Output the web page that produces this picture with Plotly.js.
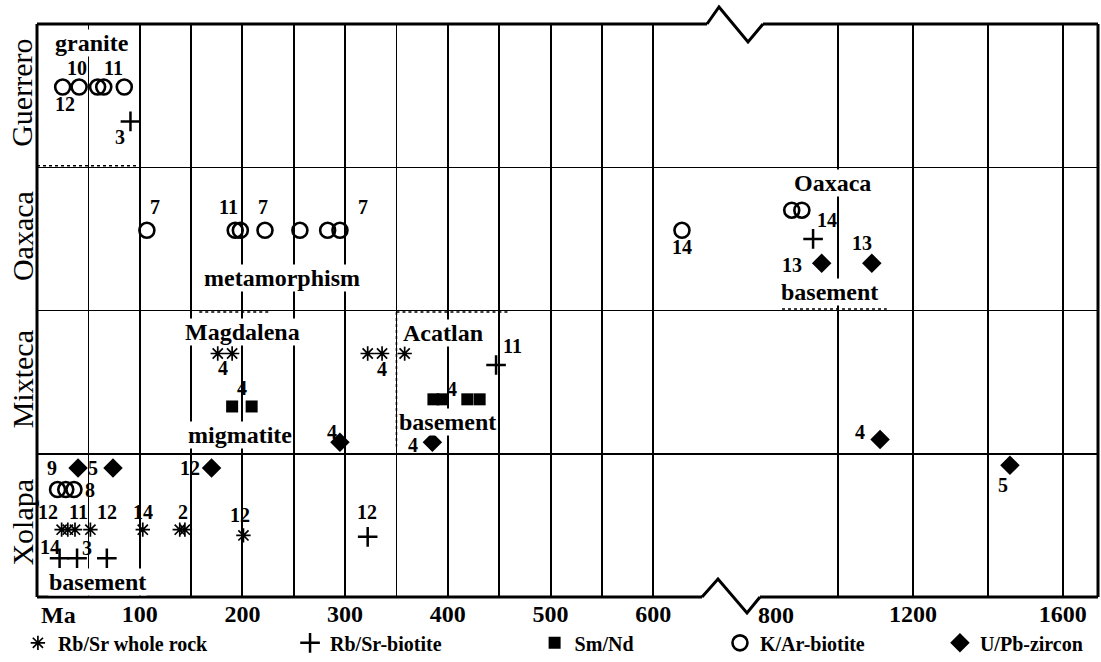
<!DOCTYPE html>
<html>
<head>
<meta charset="utf-8">
<script src="https://cdn.plot.ly/plotly-3.0.1.min.js"></script>
<style>html,body{margin:0;padding:0;background:#fff;}#chart{width:1101px;height:662px;}</style>
</head>
<body>
<div id="chart"></div>
<script>
// ---------------- DATA ----------------
// rows (terranes), bottom to top; each row occupies one unit band on the y axis
const rows = ['Xolapa', 'Mixteca', 'Oaxaca', 'Guerrero'];
const methods = ['Rb/Sr whole rock', 'Rb/Sr-biotite', 'Sm/Nd', 'K/Ar-biotite', 'U/Pb-zircon'];

// ages in Ma, lane = vertical place inside the row band (row index + fraction)
const rbsrWholeRockAge  = [176, 190, 322, 336, 358, 24, 30, 37, 52, 103, 139, 144, 201];
const rbsrWholeRockLane = [1.70, 1.70, 1.70, 1.70, 1.70, 0.47, 0.47, 0.47, 0.47, 0.47, 0.47, 0.47, 0.43];

const rbsrBiotiteAge  = [91, 933, 447, 22, 39, 68, 322];
const rbsrBiotiteLane = [3.32, 2.50, 1.62, 0.27, 0.27, 0.27, 0.42];

const smNdAge  = [190, 209, 386, 395, 419, 431];
const smNdLane = [1.33, 1.33, 1.38, 1.38, 1.38, 1.38];

const kArBiotiteAge  = [25, 41, 59, 65, 85, 107, 193, 198, 222, 256, 283, 295, 628, 876, 903, 20, 28, 36];
const kArBiotiteLane = [3.56, 3.56, 3.56, 3.56, 3.56, 2.56, 2.56, 2.56, 2.56, 2.56, 2.56, 2.56, 2.56, 2.70, 2.70, 0.75, 0.75, 0.75];

const uPbZirconAge  = [956, 1090, 295, 385, 1112, 40, 74, 170, 1459];
const uPbZirconLane = [2.33, 2.33, 1.08, 1.08, 1.10, 0.90, 0.90, 0.90, 0.92];

// reference numbers written beside the dates
const refText = ['10', '11', '12', '3', '7', '11', '7', '7', '14', '14', '13', '13',
                 '4', '4', '4', '4', '11', '4', '4', '4',
                 '9', '5', '12', '8', '12', '11', '12', '14', '2', '12', '12', '14', '3', '5'];
const refAge  = [39, 74, 27, 81, 115, 186, 220, 317, 628, 970, 876, 1064,
                 181, 200, 287, 336, 463, 404, 366, 1058,
                 15, 55, 149, 52, 11, 40, 68, 103, 142, 198, 321, 13, 49, 1440];
const refLane = [3.69, 3.69, 3.44, 3.21, 2.72, 2.72, 2.72, 2.72, 2.44, 2.63, 2.32, 2.47,
                 1.60, 1.46, 1.15, 1.59, 1.75, 1.45, 1.06, 1.15,
                 0.90, 0.90, 0.90, 0.75, 0.59, 0.59, 0.59, 0.59, 0.59, 0.57, 0.59, 0.35, 0.34, 0.78];

// unit names
const unitText = ['granite', 'metamorphism', 'Oaxaca', 'basement', 'Magdalena', 'migmatite', 'Acatlan', 'basement', 'basement'];
const unitAge  = [54, 239, 986, 978, 200, 198, 395, 400, 59];
const unitLane = [3.87, 2.23, 2.89, 2.13, 1.85, 1.13, 1.84, 1.22, 0.105];

// dotted outlines of the sampled units: segments [from Ma, to Ma, from lane, to lane]
const segFromAge  = [0, 350, 350, 450, 158, 850 ];
const segToAge    = [100, 460, 350, 450, 227, 1130];
const segFromLane = [3.01, 1.99, 1.99, 1.99, 1.99, 2.01];
const segToLane   = [3.01, 1.99, 1.05, 1.05, 1.99, 2.01];

// axis scale
const leftTicks = [100, 200, 300, 400, 500, 600];
const leftMinor = [50, 150, 250, 350, 450, 550];
const rightTicks = [1000, 1200, 1400, 1600];
const rightTickText = ['', '1200', '', '1600'];
const breakLabel = 800;

// ---------------- DRAWING ----------------
const BREAK = 700;   // ages above go to the compressed right-hand axis
const SERIF = 'Liberation Serif, Times New Roman, serif';
const styles = [
  {symbol: 'asterisk-open', size: 12, color: '#000', line: {width: 1.7, color: '#000'}},
  {symbol: 'cross-thin-open', size: 14, color: '#000', line: {width: 2.5, color: '#000'}},
  {symbol: 'square', size: 12, color: '#000', line: {width: 0}},
  {symbol: 'circle-open', size: 15, color: '#000', line: {width: 2.6, color: '#000'}},
  {symbol: 'diamond', size: 15, color: '#000', line: {width: 0}}
];
const series = [
  [rbsrWholeRockAge, rbsrWholeRockLane],
  [rbsrBiotiteAge, rbsrBiotiteLane],
  [smNdAge, smNdLane],
  [kArBiotiteAge, kArBiotiteLane],
  [uPbZirconAge, uPbZirconLane]
];
const legendNames = ['legend', 'legend2', 'legend3', 'legend4', 'legend5'];

const traces = [];
series.forEach(([ages, lanes], i) => {
  const left = {x: [], y: []}, right = {x: [], y: []};
  ages.forEach((a, k) => {
    const t = a > BREAK ? right : left;
    t.x.push(a); t.y.push(lanes[k]);
  });
  traces.push({
    type: 'scatter', mode: 'markers', name: methods[i], x: left.x, y: left.y,
    xaxis: 'x', yaxis: 'y', marker: styles[i], legend: legendNames[i], showlegend: true,
    hoverinfo: 'x+name'
  });
  if (right.x.length) {
    traces.push({
      type: 'scatter', mode: 'markers', name: methods[i], x: right.x, y: right.y,
      xaxis: 'x2', yaxis: 'y', marker: styles[i], showlegend: false, hoverinfo: 'x+name'
    });
  }
});

const annotations = [];
refText.forEach((t, i) => {
  annotations.push({
    text: t, x: refAge[i], y: refLane[i], xref: refAge[i] > BREAK ? 'x2' : 'x', yref: 'y',
    xanchor: 'center', yanchor: 'middle',
    showarrow: false, font: {family: SERIF, size: 20, weight: 'bold', color: '#000'}
  });
});
unitText.forEach((t, i) => {
  annotations.push({
    text: t, x: unitAge[i], y: unitLane[i], xref: unitAge[i] > BREAK ? 'x2' : 'x', yref: 'y',
    xanchor: 'center', yanchor: 'middle',
    showarrow: false, bgcolor: '#fff', borderpad: 0,
    font: {family: SERIF, size: 24, weight: 'bold', color: '#000'}
  });
});
rows.forEach((r, i) => {
  annotations.push({
    text: r, x: -0.0141, xref: 'paper', y: i + 0.52, yref: 'y', textangle: -90,
    xanchor: 'center', yanchor: 'middle',
    showarrow: false, font: {family: SERIF, size: 30, color: '#000'}
  });
});
annotations.push({text: 'Ma', x: 0, xref: 'x', xanchor: 'left', xshift: 2, y: -0.031, yref: 'paper',
  yanchor: 'middle', showarrow: false, font: {family: SERIF, size: 24, weight: 'bold', color: '#000'}});
annotations.push({text: String(breakLabel), x: breakLabel, xref: 'x2', xanchor: 'center', xshift: 13,
  y: -0.031, yref: 'paper', yanchor: 'middle',
  showarrow: false, font: {family: SERIF, size: 24, weight: 'bold', color: '#000'}});

// frame with axis break (paper coordinates of the plotting area)
const px = v => (v - 37) / 1061;
const py = v => (597 - v) / 573;
const fr = {type: 'line', xref: 'paper', yref: 'paper', line: {color: '#000', width: 3}};
const shapes = [];
segFromAge.forEach((f, i) => {
  const ref = f > BREAK ? 'x2' : 'x';
  shapes.push({type: 'line', xref: ref, yref: 'y', x0: f, x1: segToAge[i], y0: segFromLane[i], y1: segToLane[i],
    line: {color: '#000', width: 1.5, dash: 'dot'}, layer: 'below'});
});
shapes.push(
  Object.assign({}, fr, {x0: 0, x1: 0, y0: 0, y1: 1}),
  Object.assign({}, fr, {x0: 1, x1: 1, y0: 0, y1: 1}),
  Object.assign({}, fr, {x0: 0, x1: px(707), y0: 1, y1: 1}),
  Object.assign({}, fr, {x0: px(763), x1: 1, y0: 1, y1: 1}),
  Object.assign({}, fr, {x0: 0, x1: px(702), y0: 0, y1: 0}),
  Object.assign({}, fr, {x0: px(760), x1: 1, y0: 0, y1: 0}),
  {type: 'path', xref: 'paper', yref: 'paper', line: {color: '#000', width: 3},
   path: `M ${px(707)},${py(24)} L ${px(719)},${py(7)} L ${px(748)},${py(42)} L ${px(763)},${py(24)}`},
  {type: 'path', xref: 'paper', yref: 'paper', line: {color: '#000', width: 3},
   path: `M ${px(702)},${py(597)} L ${px(718)},${py(579)} L ${px(747)},${py(613)} L ${px(760)},${py(597)}`}
);

const tickFont = {family: SERIF, size: 24, weight: 'bold', color: '#000'};
const legFont = {family: SERIF, size: 20, weight: 'bold', color: '#000'};
const legX = [-0.018, 0.2385, 0.469, 0.6437, 0.851];

const layout = {
  width: 1101, height: 662,
  margin: {l: 37, r: 3, t: 24, b: 65, autoexpand: false},
  paper_bgcolor: '#fff', plot_bgcolor: '#fff',
  font: {family: SERIF, color: '#000'},
  xaxis: {
    domain: [0, px(733)], range: [0, (733 - 37) / 1.027], anchor: 'y',
    tickmode: 'array', tickvals: leftTicks, ticktext: leftTicks.map(String),
    ticks: '', showgrid: true, gridcolor: '#000', gridwidth: 2,
    minor: {tickmode: 'array', tickvals: leftMinor, showgrid: true, gridcolor: '#000', gridwidth: 1.5, ticks: ''},
    zeroline: false, showline: false, tickfont: tickFont, fixedrange: true
  },
  xaxis2: {
    domain: [px(733), 1], range: [1200 + (733 - 913) / 0.37425, 1200 + (1098 - 913) / 0.37425], anchor: 'y',
    tickmode: 'array', tickvals: rightTicks, ticktext: rightTickText,
    ticks: '', showgrid: true, gridcolor: '#000', gridwidth: 2.2,
    zeroline: false, showline: false, tickfont: tickFont, fixedrange: true
  },
  yaxis: {
    range: [0, 4], tickmode: 'array', tickvals: [1, 2, 3], showticklabels: false, ticks: '',
    showgrid: true, gridcolor: '#000', gridwidth: 1.5, zeroline: false, showline: false, fixedrange: true
  },
  showlegend: true,
  annotations: annotations,
  shapes: shapes
};
legendNames.forEach((n, i) => {
  layout[n] = {x: legX[i], y: -0.08, xanchor: 'left', yanchor: 'middle', orientation: 'h',
    bgcolor: 'rgba(0,0,0,0)', borderwidth: 0, font: legFont, itemwidth: 30};
});

Plotly.newPlot('chart', traces, layout, {displayModeBar: false, staticPlot: true});
</script>
</body>
</html>
